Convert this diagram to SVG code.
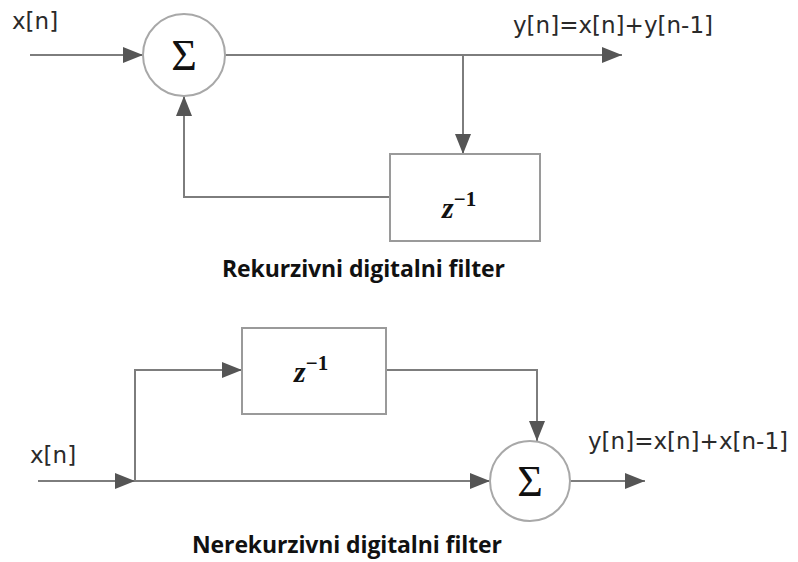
<svg xmlns="http://www.w3.org/2000/svg" width="798" height="562" viewBox="0 0 798 562">
<style>
.ln{fill:none;stroke:#7d7d7d;stroke-width:2}
.sum{fill:#fff;stroke:#a8a8a8;stroke-width:2}
.box{fill:#fff;stroke:#9a9a9a;stroke-width:2}
.lbl{font-family:"DejaVu Sans",Verdana,sans-serif;font-size:23px;fill:#2a2a2a}
.cap{font-family:"Open Sans","Liberation Sans",sans-serif;font-size:23px;font-weight:bold;fill:#111}
.sig{font-family:"Liberation Serif","DejaVu Serif",serif;font-size:44px;fill:#111}
.z{font-family:"Liberation Serif","DejaVu Serif",serif;font-size:30px;font-weight:bold;font-style:italic;fill:#111}
.zs{font-family:"Liberation Serif","DejaVu Serif",serif;font-size:21px;font-weight:bold;font-style:normal;fill:#111}
</style>
<defs>
<marker id="ah" markerWidth="20" markerHeight="16" refX="20" refY="8" orient="auto" markerUnits="userSpaceOnUse">
<path d="M0,0 L20,8 L0,16 Z" fill="#555"/>
</marker>
</defs>
<g id="connectors">
<line class="ln" x1="30" y1="55" x2="143" y2="55" marker-end="url(#ah)"/>
<line class="ln" x1="225" y1="55" x2="622" y2="55" marker-end="url(#ah)"/>
<line class="ln" x1="463" y1="55" x2="463" y2="154" marker-end="url(#ah)"/>
<polyline class="ln" points="390,197 184,197 184,96" marker-end="url(#ah)"/>
<line class="ln" x1="38" y1="481" x2="135" y2="481" marker-end="url(#ah)"/>
<line class="ln" x1="135" y1="481" x2="490" y2="481" marker-end="url(#ah)"/>
<polyline class="ln" points="135,481 135,370 242,370" marker-end="url(#ah)"/>
<polyline class="ln" points="386,370 537,370 537,441" marker-end="url(#ah)"/>
<line class="ln" x1="570" y1="481" x2="645" y2="481" marker-end="url(#ah)"/>
</g>
<g id="sum1">
<circle class="sum" cx="184" cy="55" r="41"/>
<text class="sig" x="184" y="70" text-anchor="middle">Σ</text>
</g>
<g id="delay1">
<rect class="box" x="390" y="154" width="150" height="87"/>
<text class="z" x="442" y="218">z<tspan class="zs" dy="-12">−1</tspan></text>
</g>
<g id="sum2">
<circle class="sum" cx="530" cy="481" r="40"/>
<text class="sig" x="530" y="496" text-anchor="middle">Σ</text>
</g>
<g id="delay2">
<rect class="box" x="242" y="328" width="144" height="86"/>
<text class="z" x="294" y="382">z<tspan class="zs" dy="-12">−1</tspan></text>
</g>
<g id="labels">
<text class="lbl" x="12" y="29">x[n]</text>
<text class="lbl" x="513" y="33" textLength="200">y[n]=x[n]+y[n-1]</text>
<text class="cap" x="222" y="277" textLength="283">Rekurzivni digitalni filter</text>
<text class="lbl" x="30" y="463">x[n]</text>
<text class="lbl" x="588" y="449" textLength="200">y[n]=x[n]+x[n-1]</text>
<text class="cap" x="192" y="553" textLength="310">Nerekurzivni digitalni filter</text>
</g>
</svg>
